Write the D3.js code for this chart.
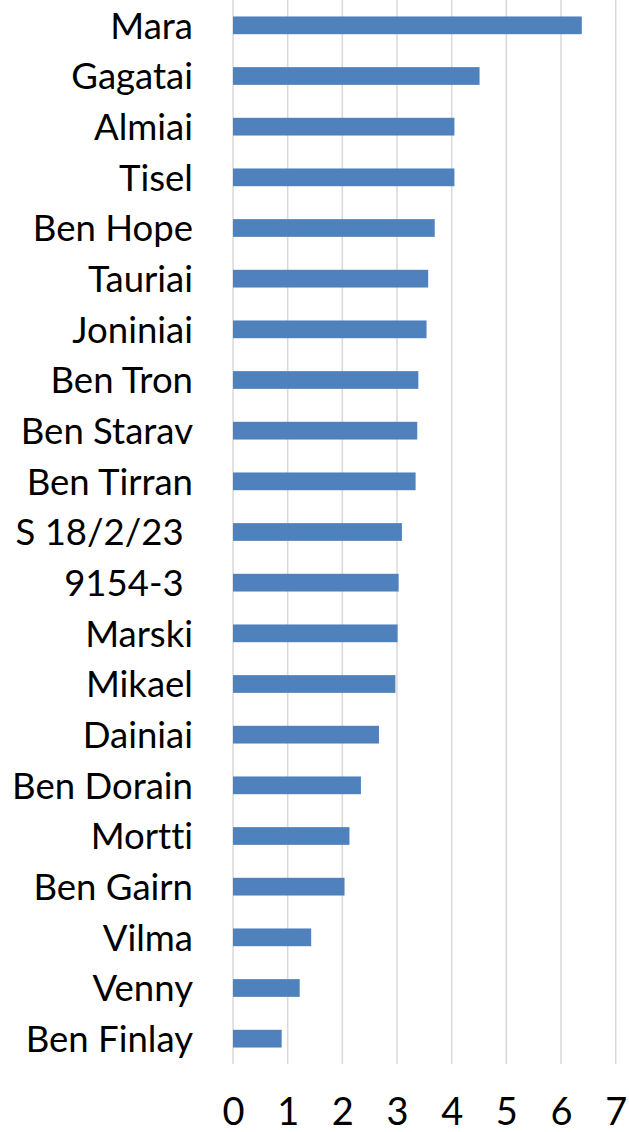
<!DOCTYPE html>
<html><head><meta charset="utf-8">
<script src="https://cdn.jsdelivr.net/npm/d3@7"></script>
<style>body{margin:0;background:#fff}svg{display:block}text{font-variant-ligatures:none}</style>
</head><body>
<svg id="chart" width="629" height="1132"></svg>
<script>
const categories = ["Mara","Gagatai","Almiai","Tisel","Ben Hope","Tauriai","Joniniai","Ben Tron","Ben Starav","Ben Tirran","S 18/2/23 ","9154-3 ","Marski","Mikael","Dainiai","Ben Dorain","Mortti","Ben Gairn","Vilma","Venny","Ben Finlay"];
const values = [6.38,4.51,4.05,4.05,3.69,3.57,3.54,3.39,3.37,3.34,3.09,3.03,3.01,2.97,2.67,2.34,2.13,2.04,1.43,1.22,0.89];
const xTicks = [0,1,2,3,4,5,6,7];

const svg = d3.select("#chart");
const plotLeft = 233, plotRight = 615.7, plotTop = 0, plotBottom = 1064;
const font = "Lato, 'Open Sans', sans-serif";

const x = d3.scaleLinear().domain([0,7]).range([plotLeft,plotRight]);
const y = d3.scaleBand().domain(categories).range([plotTop,plotBottom]).paddingInner(0.65).paddingOuter(0.325);

// gridlines
svg.append("g").selectAll("line").data(xTicks).join("line")
  .attr("x1", d=>x(d)).attr("x2", d=>x(d))
  .attr("y1", plotTop).attr("y2", plotBottom)
  .attr("stroke","#d9d9d9").attr("stroke-width",1.5);

// bars
svg.append("g").selectAll("rect").data(categories).join("rect")
  .attr("x", x(0))
  .attr("y", d=>y(d))
  .attr("width", (d,i)=>x(values[i])-x(0))
  .attr("height", y.bandwidth())
  .attr("fill","#4f81bd");

// measure font size to fit reference width
const probe = svg.append("text").attr("font-family",font).attr("font-size",30).text("Ben Dorain");
const w30 = probe.node().getComputedTextLength();
probe.remove();
const labelSize = 30*181/w30;

// y axis labels
const yAxis = d3.axisLeft(y).tickSize(0).tickPadding(40);
const gy = svg.append("g").attr("transform",`translate(${plotLeft},0)`).call(yAxis);
gy.select(".domain").remove();
gy.selectAll("text")
  .attr("font-family",font).attr("font-size",labelSize)
  .attr("fill","#000").attr("dy","0.36em")
  .style("white-space","pre");

// x axis labels
const xAxis = d3.axisBottom(x).tickValues(xTicks).tickFormat(d3.format("d")).tickSize(0).tickPadding(0);
const gx = svg.append("g").attr("transform",`translate(0,${plotBottom})`).call(xAxis);
gx.select(".domain").remove();
gx.selectAll("text")
  .attr("font-family",font).attr("font-size",labelSize*1.04)
  .attr("fill","#000").attr("dy","0")
  .attr("y", 1125-plotBottom);
</script>
</body></html>
